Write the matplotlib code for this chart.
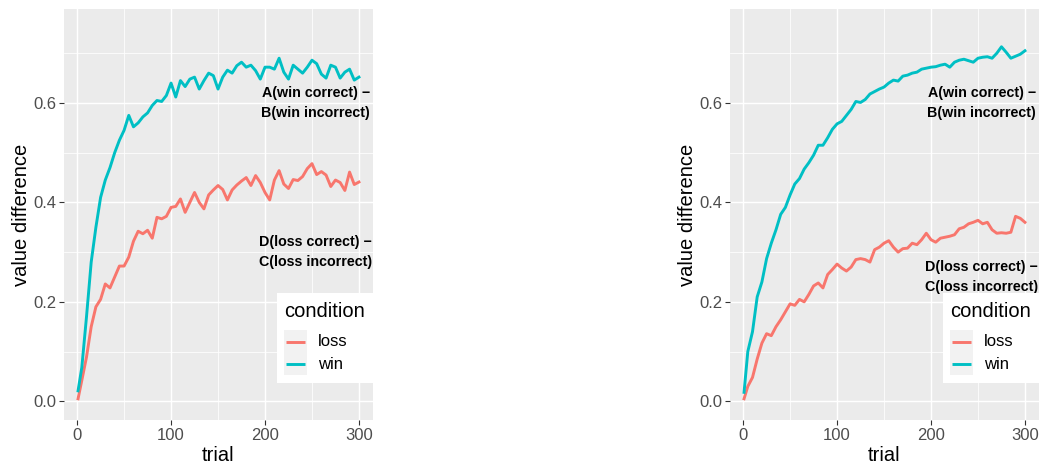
import numpy as np
import matplotlib
matplotlib.use('Agg')
import matplotlib.pyplot as plt
from matplotlib.patches import Rectangle

plt.rcParams['font.family'] = ['Liberation Sans', 'DejaVu Sans']

# values, one point every 5 trials
trial = [1] + list(range(5, 301, 5))

left_win = [0.021,
            0.068, 0.170, 0.280, 0.350, 0.410, 0.445, 0.470, 0.500, 0.525, 0.545,
            0.575, 0.552, 0.560, 0.572, 0.580, 0.595, 0.605, 0.603, 0.615, 0.640,
            0.612, 0.645, 0.633, 0.648, 0.652, 0.628, 0.645, 0.660, 0.655, 0.628,
            0.652, 0.666, 0.660, 0.675, 0.682, 0.672, 0.676, 0.665, 0.648, 0.672,
            0.672, 0.668, 0.690, 0.662, 0.648, 0.676, 0.668, 0.660, 0.672, 0.686,
            0.679, 0.658, 0.650, 0.676, 0.672, 0.650, 0.662, 0.668, 0.646, 0.652]
left_loss = [0.005,
             0.042, 0.089, 0.150, 0.190, 0.205, 0.236, 0.228, 0.250, 0.272, 0.272,
             0.290, 0.322, 0.342, 0.337, 0.344, 0.328, 0.370, 0.367, 0.372, 0.390,
             0.392, 0.407, 0.380, 0.400, 0.420, 0.400, 0.387, 0.415, 0.425, 0.434,
             0.426, 0.405, 0.425, 0.435, 0.443, 0.450, 0.434, 0.454, 0.440, 0.420,
             0.405, 0.445, 0.464, 0.437, 0.428, 0.446, 0.444, 0.452, 0.468, 0.478,
             0.456, 0.462, 0.455, 0.432, 0.445, 0.440, 0.424, 0.461, 0.436, 0.441]
right_win = [0.018,
             0.100, 0.140, 0.210, 0.240, 0.287, 0.318, 0.345, 0.376, 0.390, 0.415,
             0.437, 0.448, 0.467, 0.480, 0.495, 0.515, 0.515, 0.530, 0.547, 0.558,
             0.563, 0.575, 0.587, 0.603, 0.601, 0.607, 0.618, 0.623, 0.628, 0.632,
             0.640, 0.646, 0.644, 0.654, 0.656, 0.660, 0.662, 0.668, 0.670, 0.672,
             0.673, 0.676, 0.678, 0.672, 0.682, 0.686, 0.688, 0.685, 0.682, 0.690,
             0.692, 0.693, 0.690, 0.700, 0.713, 0.702, 0.690, 0.694, 0.698, 0.705]
right_loss = [0.005,
              0.030, 0.048, 0.085, 0.117, 0.136, 0.132, 0.150, 0.164, 0.180, 0.196,
              0.193, 0.205, 0.200, 0.215, 0.232, 0.238, 0.228, 0.255, 0.265, 0.276,
              0.268, 0.262, 0.270, 0.285, 0.287, 0.285, 0.280, 0.305, 0.310, 0.318,
              0.323, 0.310, 0.300, 0.307, 0.308, 0.318, 0.315, 0.325, 0.338, 0.325,
              0.320, 0.328, 0.330, 0.332, 0.335, 0.347, 0.350, 0.357, 0.360, 0.364,
              0.357, 0.360, 0.345, 0.338, 0.339, 0.338, 0.340, 0.372, 0.368, 0.360]

conditions = ['loss', 'win']
colors = {'loss': '#F8766D', 'win': '#00BFC4'}
win_note = 'A(win correct) \u2212\nB(win incorrect)'
loss_note = 'D(loss correct) \u2212\nC(loss incorrect)'
loss_note_y = [0.30, 0.25]

fig = plt.figure(figsize=(10.4, 4.65), dpi=100)
W, H = 1040, 465
panels = [
    (fig.add_axes([64 / W, 45 / H, 309 / W, 411 / H]), left_loss, left_win, loss_note_y[0]),
    (fig.add_axes([730 / W, 45 / H, 309 / W, 411 / H]), right_loss, right_win, loss_note_y[1]),
]

for ax, loss, win, ly in panels:
    ax.set_facecolor('#EBEBEB')
    for s in ax.spines.values():
        s.set_visible(False)
    ax.set_xlim(-13.95, 314.95)
    ax.set_ylim(-0.0376, 0.789)
    ax.set_xticks([0, 100, 200, 300])
    ax.set_yticks([0.0, 0.2, 0.4, 0.6])
    ax.set_yticklabels(['0.0', '0.2', '0.4', '0.6'])
    ax.set_xticks([50, 150, 250], minor=True)
    ax.set_yticks([0.1, 0.3, 0.5, 0.7], minor=True)
    ax.grid(which='major', color='white', linewidth=1.05)
    ax.grid(which='minor', color='white', linewidth=0.55)
    ax.set_axisbelow(True)
    ax.tick_params(which='major', length=3.5, width=0.8, color='#333333',
                   labelcolor='#4D4D4D', labelsize=12, pad=2)
    ax.tick_params(which='minor', length=0)

    ax.plot(trial, loss, color=colors['loss'], lw=2.1, solid_joinstyle='round')
    ax.plot(trial, win, color=colors['win'], lw=2.1, solid_joinstyle='round')

    ax.text(254, 0.60, win_note, ha='center', va='center', multialignment='center',
            fontsize=10.3, fontweight='bold', linespacing=1.55, color='black')
    ax.text(254, ly, loss_note, ha='center', va='center', multialignment='center',
            fontsize=10.3, fontweight='bold', linespacing=1.55, color='black')

    # legend drawn by hand, ggplot style
    ax.add_patch(Rectangle((0.689, 0.09), 0.32, 0.219, transform=ax.transAxes,
                           facecolor='white', edgecolor='none', zorder=5, clip_on=False))
    ax.text(0.712, 0.265, 'condition', transform=ax.transAxes, fontsize=14.5,
            ha='left', va='center', zorder=6)
    for k, (cond, yk) in enumerate(zip(conditions, [0.1905, 0.136])):
        ax.add_patch(Rectangle((0.712, yk - 0.0275), 0.073, 0.055, transform=ax.transAxes,
                               facecolor='#F2F2F2', edgecolor='none', zorder=6))
        ax.plot([0.718, 0.780], [yk, yk], transform=ax.transAxes, color=colors[cond],
                lw=2.1, zorder=7, solid_capstyle='butt')
        ax.text(0.821, yk, cond, transform=ax.transAxes, fontsize=12,
                ha='left', va='center', zorder=7)

    pos = ax.get_position()
    fig.text(pos.x0 - 37.3 / W, pos.y0 + pos.height / 2, 'value difference',
             rotation=90, rotation_mode='anchor', ha='center', va='baseline',
             fontsize=14.5)
    fig.text(pos.x0 + pos.width / 2, 4 / H, 'trial', ha='center', va='baseline',
             fontsize=14.5)

fig.savefig('out.png', dpi=100)
